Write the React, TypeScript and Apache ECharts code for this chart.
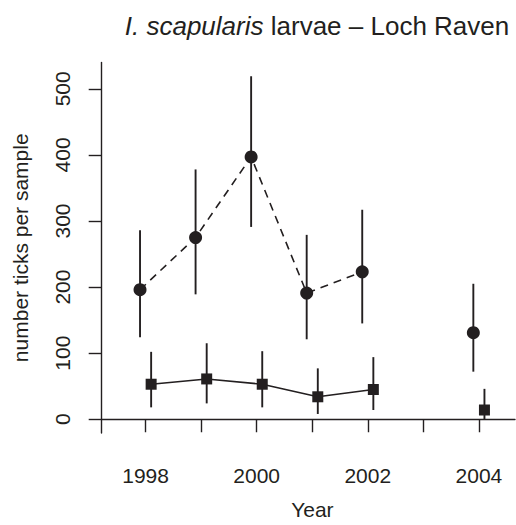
import React, { useEffect, useRef } from "react";
import * as echarts from "echarts";

const years = [1998, 1999, 2000, 2001, 2002, 2004];
const circleMean = [196, 275, 397, 191, 223, 131];
const circleLow = [124, 189, 291, 121, 145, 72];
const circleHigh = [286, 378, 519, 279, 317, 205];
const squareMean = [53, 61, 53, 34, 45, 14];
const squareLow = [18, 24, 18, 8, 14, 0];
const squareHigh = [102, 115, 103, 77, 94, 46];
const xTicks = [1998, 1999, 2000, 2001, 2002, 2003, 2004];
const xLabels = [1998, 2000, 2002, 2004];
const yTicks = [0, 100, 200, 300, 400, 500];

const INK = "#231f20";
const FONT = "'Liberation Sans', Arial, sans-serif";

export default function App() {
  const ref = useRef<HTMLDivElement>(null);
  useEffect(() => {
    if (!ref.current) return;
    const chart = echarts.init(ref.current, undefined, { renderer: "svg" });
    const cx = years.map((y) => y - 0.1);
    const sx = years.map((y) => y + 0.1);
    const connected = 5; // first five years are joined by lines
    const errData = [
      ...years.map((_, i) => [cx[i], circleLow[i], circleHigh[i]]),
      ...years.map((_, i) => [sx[i], squareLow[i], squareHigh[i]]),
    ];
    chart.setOption({
      animation: false,
      title: {
        text: "{i|I. scapularis} larvae – Loch Raven",
        left: 312,
        top: 8,
        textAlign: "center",
        textStyle: {
          fontFamily: FONT,
          fontSize: 26,
          fontWeight: "normal",
          color: INK,
          rich: {
            i: { fontFamily: FONT, fontSize: 26, fontStyle: "italic", color: INK },
          },
        },
      },
      grid: { left: 101.7, top: 62.5, width: 413.3, height: 376.8, containLabel: false },
      xAxis: {
        type: "value",
        min: 1997.21,
        max: 2004.65,
        name: "Year",
        nameLocation: "middle",
        nameGap: 66,
        nameTextStyle: { fontFamily: FONT, fontSize: 21, color: INK, padding: [0, 0, 0, 8] },
        axisLine: { show: true, lineStyle: { color: INK, width: 1.4 } },
        axisTick: { show: true, length: 13, customValues: xTicks, lineStyle: { color: INK, width: 1.4 } },
        axisLabel: {
          customValues: xLabels,
          margin: 32,
          fontFamily: FONT,
          fontSize: 21,
          color: INK,
          formatter: (v: number) => String(v),
        },
        splitLine: { show: false },
      },
      yAxis: {
        type: "value",
        min: -20.8,
        max: 539.8,
        name: "number ticks per sample",
        nameLocation: "middle",
        nameGap: 71,
        nameTextStyle: { fontFamily: FONT, fontSize: 21, color: INK },
        axisLine: { show: true, lineStyle: { color: INK, width: 1.4 } },
        axisTick: { show: true, length: 13, customValues: yTicks, lineStyle: { color: INK, width: 1.4 } },
        axisLabel: {
          customValues: yTicks,
          rotate: 90,
          margin: 29,
          fontFamily: FONT,
          fontSize: 21,
          color: INK,
        },
        splitLine: { show: false },
      },
      series: [
        {
          type: "custom",
          data: errData,
          renderItem: (params: any, api: any) => {
            const x = api.value(0);
            const p1 = api.coord([x, api.value(1)]);
            const p2 = api.coord([x, api.value(2)]);
            return {
              type: "line",
              shape: { x1: p1[0], y1: p1[1], x2: p2[0], y2: p2[1] },
              style: { stroke: INK, lineWidth: 1.9 },
            };
          },
          z: 1,
        },
        {
          type: "line",
          data: years.slice(0, connected).map((_, i) => [cx[i], circleMean[i]]),
          symbol: "circle",
          symbolSize: 13,
          itemStyle: { color: INK, opacity: 1 },
          lineStyle: { color: INK, width: 1.6, type: [8, 6] },
          z: 2,
        },
        {
          type: "scatter",
          data: years.slice(connected).map((_, i) => [cx[i + connected], circleMean[i + connected]]),
          symbol: "circle",
          symbolSize: 13,
          itemStyle: { color: INK, opacity: 1 },
          z: 2,
        },
        {
          type: "line",
          data: years.slice(0, connected).map((_, i) => [sx[i], squareMean[i]]),
          symbol: "rect",
          symbolSize: 11,
          itemStyle: { color: INK, opacity: 1 },
          lineStyle: { color: INK, width: 1.6 },
          z: 2,
        },
        {
          type: "scatter",
          data: years.slice(connected).map((_, i) => [sx[i + connected], squareMean[i + connected]]),
          symbol: "rect",
          symbolSize: 11,
          itemStyle: { color: INK, opacity: 1 },
          z: 2,
        },
      ],
    });
    return () => chart.dispose();
  }, []);
  return (
    <div
      ref={ref}
      style={{ position: "absolute", left: 0, top: 0, width: 516, height: 525, background: "#fff" }}
    />
  );
}
